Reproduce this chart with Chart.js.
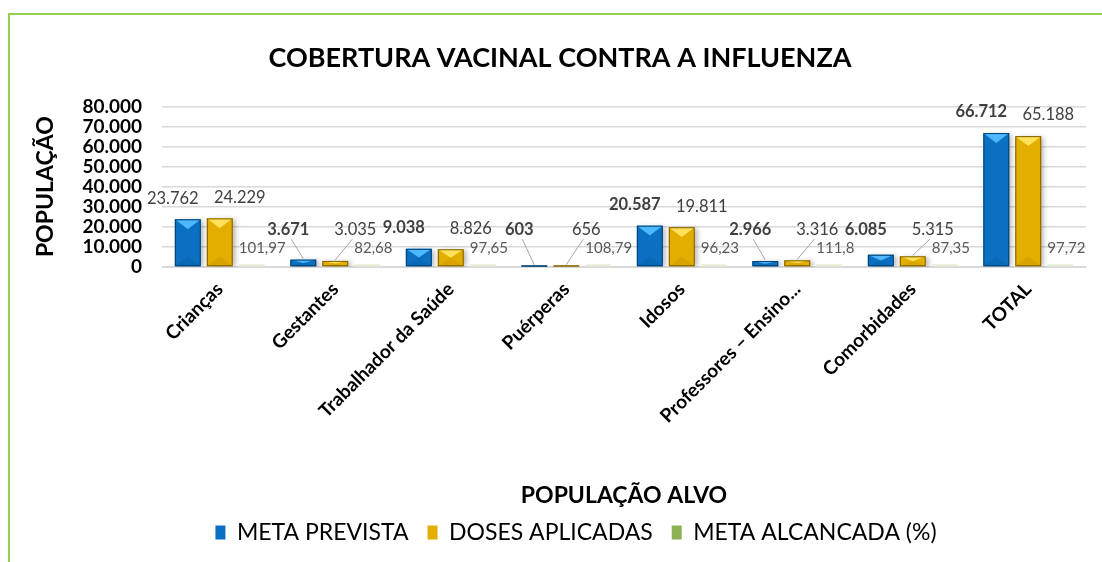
<!DOCTYPE html>
<html>
<head>
<meta charset="utf-8">
<script src="https://cdn.jsdelivr.net/npm/chart.js@4.4.0/dist/chart.umd.min.js"></script>
<style>
  html, body { margin: 0; padding: 0; background: #fff; }
  #wrap { position: relative; width: 1102px; height: 562px; overflow: hidden; }
  #frame { position: absolute; left: 8px; top: 13px; width: 1200px; height: 700px;
           border-top: 2px solid #92d050; border-left: 2px solid #92d050; }
  canvas { position: absolute; left: 0; top: 0; }
</style>
</head>
<body>
<div id="wrap">
  <div id="frame"></div>
  <canvas id="chart" width="1102" height="562"></canvas>
</div>
<script>
// Dados do gráfico
const categorias = ['Crianças', 'Gestantes', 'Trabalhador da Saúde', 'Puérperas', 'Idosos',
  'Professores – Ensino...', 'Comorbidades', 'TOTAL'];
const metaPrevista = [23762, 3671, 9038, 603, 20587, 2966, 6085, 66712];
const dosesAplicadas = [24229, 3035, 8826, 656, 19811, 3316, 5315, 65188];
const metaAlcancada = [101.97, 82.68, 97.65, 108.79, 96.23, 111.8, 87.35, 97.72];
const nomesSeries = ['META PREVISTA', 'DOSES APLICADAS', 'META ALCANCADA (%)'];

const FONT = 'Lato, "Open Sans", sans-serif';

function fmtMilhar(v) {
  return String(Math.round(v)).replace(/\B(?=(\d{3})+(?!\d))/g, '.');
}
function fmtDecimal(v) {
  return String(v).replace('.', ',');
}

// Bevel look for the bars (Excel style)
const tones = [
  { hi: '#4cb8ff', lo: '#00508f', edge: '#003e6e' },
  { hi: '#ffe25a', lo: '#b08400', edge: '#7d5e00' }
];

const bevelPlugin = {
  id: 'bevel',
  beforeDatasetDraw(chart, args) {
    if (args.index > 1) return;
    const ctx = chart.ctx;
    ctx.save();
    ctx.shadowColor = 'rgba(0,0,0,0.28)';
    ctx.shadowBlur = 5;
    ctx.shadowOffsetX = 3;
    ctx.shadowOffsetY = 1;
  },
  afterDatasetDraw(chart, args) {
    if (args.index > 1) return;
    const ctx = chart.ctx;
    ctx.restore();
    const t = tones[args.index];
    args.meta.data.forEach(el => {
      const l = el.x - el.width / 2, r = el.x + el.width / 2;
      const top = el.y, bot = el.base;
      const h = bot - top;
      if (h <= 0) return;
      const d = Math.min(el.width * 0.38, h / 2);
      ctx.save();
      ctx.fillStyle = t.hi;
      ctx.beginPath();
      ctx.moveTo(l, top); ctx.lineTo(r, top); ctx.lineTo(el.x, top + d); ctx.closePath();
      ctx.fill();
      ctx.globalAlpha = 0.22;
      ctx.fillStyle = t.lo;
      ctx.beginPath();
      ctx.moveTo(l, bot); ctx.lineTo(r, bot); ctx.lineTo(el.x, bot - d); ctx.closePath();
      ctx.fill();
      ctx.globalAlpha = 1;
      ctx.strokeStyle = t.edge;
      ctx.lineWidth = 1;
      ctx.strokeRect(l + 0.5, top + 0.5, el.width - 1, h - 1);
      ctx.restore();
    });
  }
};

// Data labels
const labelsPlugin = {
  id: 'rotulos',
  afterLayout(chart) {
    // legend sits a bit right of centre in the original
    chart.legend.left += 16;
    chart.legend.right += 16;
  },
  afterDatasetsDraw(chart) {
    const ctx = chart.ctx;
    ctx.save();
    ctx.textBaseline = 'middle';
    [0, 1].forEach(di => {
      const meta = chart.getDatasetMeta(di);
      meta.data.forEach((el, i) => {
        const v = chart.data.datasets[di].data[i];
        const dx = di === 0 ? -15 : 20;
        const lx = el.x + dx;
        const ly = Math.min(el.y - 21, el.base - 37);
        const bold = di === 0 && i !== 0;
        ctx.font = (bold ? 'bold ' : '') + '16.5px ' + FONT;
        ctx.fillStyle = '#404040';
        ctx.textAlign = 'center';
        ctx.fillText(fmtMilhar(v), lx, ly);
        if (el.y - ly > 27) {
          ctx.strokeStyle = '#a6a6a6';
          ctx.lineWidth = 1;
          ctx.beginPath();
          ctx.moveTo(lx + (di === 0 ? 3 : -3), ly + 10);
          ctx.lineTo(el.x, el.y - 1);
          ctx.stroke();
        }
      });
    });
    const metaP = chart.getDatasetMeta(2);
    metaP.data.forEach((el, i) => {
      // thin pale bar at the baseline
      ctx.fillStyle = '#e9eed9';
      ctx.fillRect(el.x - el.width / 2, el.base - 2, el.width, 2);
      ctx.font = '15px ' + FONT;
      ctx.fillStyle = '#595959';
      ctx.textAlign = 'left';
      ctx.fillText(fmtDecimal(chart.data.datasets[2].data[i]), el.x - el.width / 2, el.base - 18);
    });
    ctx.restore();
  }
};

new Chart(document.getElementById('chart'), {
  type: 'bar',
  data: {
    labels: categorias,
    datasets: [
      { label: nomesSeries[0], data: metaPrevista, backgroundColor: '#0b70c2' },
      { label: nomesSeries[1], data: dosesAplicadas, backgroundColor: '#e3ae00' },
      { label: nomesSeries[2], data: metaAlcancada, backgroundColor: '#e4ebcf' }
    ]
  },
  options: {
    responsive: false,
    animation: false,
    devicePixelRatio: 1,
    categoryPercentage: 0.83,
    barPercentage: 0.81,
    layout: { padding: { left: 34, right: 16, top: 42, bottom: 8 } },
    plugins: {
      title: {
        display: true,
        text: 'COBERTURA VACINAL CONTRA A INFLUENZA',
        color: '#000',
        font: { family: FONT, size: 27, weight: 'bold' },
        padding: { top: 0, bottom: 32 }
      },
      legend: {
        position: 'bottom',
        maxHeight: 60,
        labels: {
          color: '#595959',
          font: { family: FONT, size: 23 },
          boxWidth: 10,
          boxHeight: 14,
          padding: 19,
          generateLabels(chart) {
            const cols = ['#0b70c2', '#e3ae00', '#8db255'];
            return chart.data.datasets.map((ds, i) => ({
              text: ds.label, fillStyle: cols[i], strokeStyle: cols[i], lineWidth: 0,
              datasetIndex: i, hidden: false
            }));
          }
        }
      },
      tooltip: { enabled: false }
    },
    scales: {
      x: {
        grid: { display: false },
        border: { color: '#d9d9d9' },
        ticks: {
          color: '#000', maxRotation: 45, minRotation: 45, autoSkip: false,
          font: { family: FONT, size: 19, weight: 'bold' }
        },
        title: {
          display: true, text: 'POPULAÇÃO ALVO', color: '#000',
          font: { family: FONT, size: 23, weight: 'bold' },
          padding: { top: 0, bottom: -7 }
        },
        afterFit(scale) { scale.height = 235; }
      },
      y: {
        min: 0, max: 80000,
        grid: { color: '#d9d9d9', lineWidth: 1.5, drawTicks: false },
        border: { display: false },
        ticks: {
          stepSize: 10000, autoSkip: false, padding: 20, color: '#000',
          font: { family: FONT, size: 19, weight: 'bold' },
          callback: v => fmtMilhar(v)
        },
        title: {
          display: true, text: 'POPULAÇÃO', color: '#000',
          font: { family: FONT, size: 23, weight: 'bold' },
          padding: { top: -2, bottom: 0 }
        },
        afterFit(scale) { scale.width = 128; }
      }
    }
  },
  plugins: [bevelPlugin, labelsPlugin]
});
</script>
</body>
</html>
